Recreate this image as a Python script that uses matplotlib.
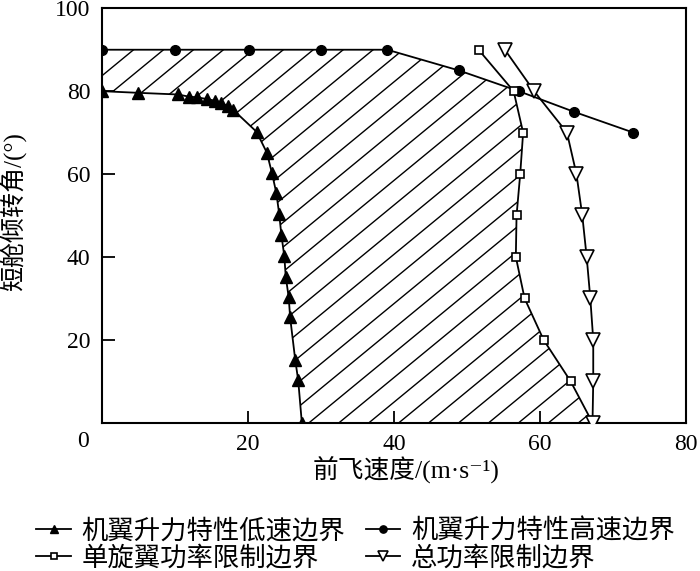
import numpy as np
import matplotlib
matplotlib.use("Agg")
import matplotlib.pyplot as plt
from matplotlib.patches import Polygon
from matplotlib.collections import LineCollection

# low-speed boundary (wing lift, filled up-triangles)
low_x = [0, 5.0, 10.4, 11.9, 13.1, 14.4, 15.5, 16.4, 17.3, 18.0, 21.2, 22.6, 23.3,
         23.9, 24.3, 24.6, 25.0, 25.2, 25.6, 25.8, 26.5, 26.9, 27.4]
low_y = [80, 79.6, 79.2, 78.7, 78.5, 78.1, 77.7, 77.2, 76.3, 75.5, 70.2, 65.2, 60.3,
         55.5, 50.4, 45.3, 40.2, 35.2, 30.3, 25.4, 15.1, 10.3, 0]

# high-speed boundary (wing lift, filled circles)
high_x = [0, 10.0, 20.1, 30.0, 39.1, 48.9, 57.1, 64.7, 72.8]
high_y = [90, 90, 90, 90, 90, 85, 80, 75, 70]

# single rotor power limit (open squares)
sq_x = [51.6, 56.4, 57.7, 57.3, 56.8, 56.7, 57.9, 60.5, 64.2, 67.2]
sq_y = [90, 80, 70, 60, 50, 40, 30, 20, 10, 0]

# total power limit (open down-triangles)
tot_x = [55.2, 59.2, 63.7, 65.0, 65.8, 66.4, 66.9, 67.3, 67.3, 67.2]
tot_y = [90, 80, 70, 60, 50, 40, 30, 20, 10, 0]

labels = ["机翼升力特性低速边界", "机翼升力特性高速边界", "单旋翼功率限制边界", "总功率限制边界"]

SERIF = ["Liberation Serif", "Noto Sans CJK SC", "DejaVu Serif"]
CJK = ["Noto Sans CJK SC", "Liberation Serif", "DejaVu Serif"]


def intersect(p1, p2, p3, p4):
    # crossing point of segment p1-p2 with segment p3-p4
    x1, y1 = p1; x2, y2 = p2; x3, y3 = p3; x4, y4 = p4
    d = (x1 - x2) * (y3 - y4) - (y1 - y2) * (x3 - x4)
    t = ((x1 - x3) * (y3 - y4) - (y1 - y3) * (x3 - x4)) / d
    return x1 + t * (x2 - x1), y1 + t * (y2 - y1)


fig = plt.figure(figsize=(7, 5.71), dpi=100)
ax = fig.add_axes([0.1453, 0.2597, 0.8347, 0.7258])

# hatched feasible region
cx, cy = intersect((high_x[5], high_y[5]), (high_x[6], high_y[6]),
                   (sq_x[0], sq_y[0]), (sq_x[1], sq_y[1]))
poly = list(zip(high_x[:6], high_y[:6])) + [(cx, cy)] + list(zip(sq_x[1:], sq_y[1:])) \
    + list(zip(low_x[::-1], low_y[::-1]))
patch = Polygon(poly, closed=True, facecolor="none", edgecolor="none")
ax.add_patch(patch)
slope = 1.45
segs = [[(x0, 0), (x0 + 100 / slope, 100)] for x0 in np.arange(-70, 80, 4.1)]
hatch = LineCollection(segs, colors="black", linewidths=1.0, zorder=1)
hatch.set_clip_path(patch)
ax.add_collection(hatch)

h1, = ax.plot(low_x, low_y, "-^", color="black", lw=1.3, ms=8.5, mfc="black", zorder=3)
h2, = ax.plot(high_x, high_y, "-o", color="black", lw=1.3, ms=7, mfc="black", zorder=3)
h3, = ax.plot(sq_x, sq_y, "-s", color="black", lw=1.3, ms=6, mfc="white", mew=1.2,
              zorder=4)
h4, = ax.plot(tot_x, tot_y, "-v", color="black", lw=1.3, ms=9.5, mfc="white", mew=1.2,
              zorder=4)

ax.set_xlim(0, 80)
ax.set_ylim(0, 100)
ax.set_xticks([0, 20, 40, 60, 80])
ax.set_xticklabels(["", "20", "40", "60", "80"])
ax.set_yticks([0, 20, 40, 60, 80, 100])
ax.set_yticklabels(["", "20", "40", "60", "80", "100"])
ax.tick_params(direction="in", length=9, width=1.3, labelsize=17, pad=8)
for lab in ax.get_xticklabels() + ax.get_yticklabels():
    lab.set_family(SERIF)
for sp in ax.spines.values():
    sp.set_linewidth(1.5)
ax.text(-2.6, -1.93, "0", fontsize=17, family=SERIF, ha="center", va="top")

ax.set_xlabel("前飞速度/(m·s⁻¹)", fontsize=18.5, family=SERIF, va="center")
ax.xaxis.set_label_coords(0.521, -0.112)
ax.set_ylabel("短舱倾转角/(°)", fontsize=18, family=SERIF, va="center")
ax.yaxis.set_label_coords(-0.152, 0.51)

fig.legend([h1, h3, h2, h4], [labels[0], labels[2], labels[1], labels[3]],
           loc="upper left", bbox_to_anchor=(0.052, 0.094), ncol=2, frameon=False,
           prop={"family": CJK, "size": 19}, handlelength=1.3, handletextpad=0.4,
           columnspacing=0.8, labelspacing=0.0, borderaxespad=0, borderpad=0,
           markerscale=0.75)

fig.savefig("out.png", dpi=100)
